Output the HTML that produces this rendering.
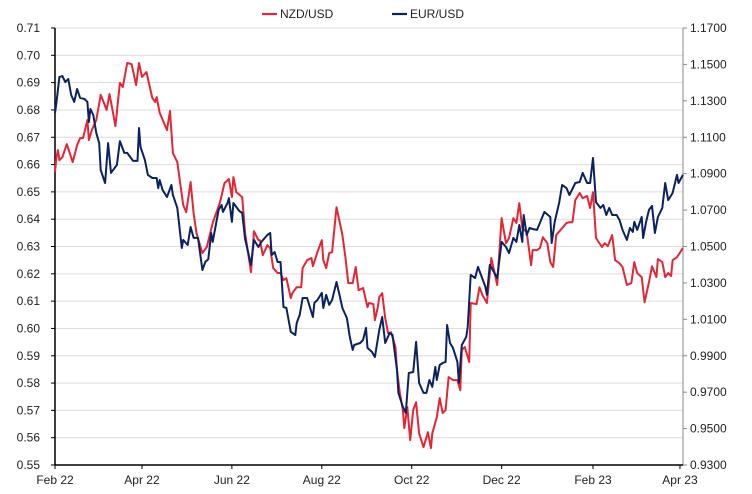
<!DOCTYPE html>
<html><head><meta charset="utf-8"><style>
body{margin:0;background:#fff}
svg text{font-family:"Liberation Sans",sans-serif;font-size:12px;fill:#222}
</style></head><body>
<svg id="chart" width="752" height="489" viewBox="0 0 752 489" xmlns="http://www.w3.org/2000/svg">
<g id="grid"></g>
<g id="axes"></g>
<g id="series"></g>
<g id="legend">
 <line x1="262" y1="14" x2="277" y2="14" stroke="#e32636" stroke-width="2.2"/>
 <text x="280" y="18">NZD/USD</text>
 <line x1="392" y1="14" x2="407" y2="14" stroke="#0b2260" stroke-width="2.2"/>
 <text x="410" y="18">EUR/USD</text>
</g>
</svg>
<script>
const leftTicks=["0.55","0.56","0.57","0.58","0.59","0.60","0.61","0.62","0.63","0.64","0.65","0.66","0.67","0.68","0.69","0.70","0.71"];
const rightTicks=["0.9300","0.9500","0.9700","0.9900","1.0100","1.0300","1.0500","1.0700","1.0900","1.1100","1.1300","1.1500","1.1700"];
const xLabels=["Feb 22","Apr 22","Jun 22","Aug 22","Oct 22","Dec 22","Feb 23","Apr 23"];
const xLabelDays=[0,59,120,181,242,303,365,424];
const nzdDays=[0,1,2,3,5,8,10,12,15,17,19,22,23,25,28,31,33,35,37,39,41,44,46,49,52,55,57,59,62,66,68,69,71,76,78,80,83,87,89,92,94,96,100,103,107,112,115,118,120,121,123,127,129,133,135,138,139,141,144,146,148,151,153,155,157,160,161,164,167,168,171,174,175,178,181,182,184,186,188,191,195,197,199,202,204,206,209,212,213,216,217,219,220,222,224,226,228,231,232,234,236,237,239,241,243,245,247,250,253,255,256,259,261,263,265,267,270,273,275,276,278,281,282,286,288,290,293,296,300,303,306,308,311,313,315,317,320,323,324,327,329,331,334,336,338,340,344,347,349,351,353,356,358,361,363,365,367,371,373,375,378,380,383,385,388,391,393,395,398,400,403,405,408,409,412,414,416,418,419,422,426];
const nzdVals=[0.6573,0.6627,0.6653,0.6616,0.6627,0.6675,0.6642,0.6609,0.6671,0.6697,0.6697,0.6763,0.6690,0.6726,0.6763,0.6855,0.6829,0.6800,0.6858,0.6800,0.6741,0.6899,0.6884,0.6972,0.6968,0.6891,0.6972,0.6921,0.6939,0.6844,0.6829,0.6847,0.6789,0.6726,0.6796,0.6642,0.6609,0.6452,0.6426,0.6536,0.6422,0.6349,0.6276,0.6298,0.6386,0.6463,0.6532,0.6547,0.6481,0.6554,0.6499,0.6481,0.6349,0.6206,0.6356,0.6323,0.6323,0.6268,0.6305,0.6294,0.6221,0.6203,0.6203,0.6177,0.6184,0.6111,0.6129,0.6151,0.6151,0.6221,0.6250,0.6258,0.6228,0.6279,0.6323,0.6250,0.6221,0.6276,0.6279,0.6444,0.6342,0.6261,0.6166,0.6166,0.6225,0.6140,0.6148,0.6078,0.6093,0.6089,0.6030,0.6078,0.6115,0.6129,0.6038,0.5983,0.5986,0.5931,0.5847,0.5763,0.5701,0.5635,0.5712,0.5591,0.5701,0.5730,0.5616,0.5565,0.5620,0.5562,0.5616,0.5675,0.5745,0.5690,0.5701,0.5822,0.5811,0.5811,0.5774,0.5921,0.5932,0.5877,0.6093,0.6089,0.6151,0.6122,0.6093,0.6258,0.6159,0.6404,0.6312,0.6331,0.6404,0.6386,0.6459,0.6367,0.6353,0.6232,0.6287,0.6287,0.6294,0.6334,0.6312,0.6243,0.6225,0.6342,0.6367,0.6386,0.6389,0.6389,0.6470,0.6496,0.6477,0.6485,0.6441,0.6499,0.6331,0.6298,0.6312,0.6301,0.6342,0.6250,0.6239,0.6225,0.6159,0.6166,0.6243,0.6203,0.6188,0.6096,0.6170,0.6228,0.6188,0.6254,0.6243,0.6188,0.6203,0.6192,0.6250,0.6261,0.6294];
const eurDays=[0,1,3,5,7,9,11,13,15,17,20,22,23,24,26,28,30,31,34,36,38,42,44,47,49,53,56,57,58,61,63,66,69,70,71,73,76,79,80,83,86,87,90,92,94,97,100,102,104,106,107,111,113,114,117,118,120,121,125,127,129,133,135,138,140,144,146,147,149,151,153,155,157,160,163,164,166,168,171,175,176,178,181,182,184,186,188,191,193,195,198,200,202,203,207,209,211,212,215,217,220,222,224,227,229,232,233,236,238,240,243,245,247,250,252,254,256,258,259,261,263,265,266,268,270,273,274,276,279,280,282,285,287,292,293,295,297,300,303,306,308,311,313,315,317,318,320,322,324,327,329,332,336,337,339,342,344,347,349,353,356,358,361,363,365,367,370,372,374,376,378,381,383,385,388,390,392,393,395,398,399,401,403,405,407,409,412,414,416,419,422,423,426];
const eurVals=[1.1233,1.1293,1.1431,1.1436,1.1403,1.1420,1.1332,1.1294,1.1365,1.1316,1.1310,1.1294,1.1184,1.1255,1.1222,1.1123,1.1068,1.0920,1.0848,1.1068,1.0904,1.0948,1.1079,1.1014,1.1014,1.0970,1.0970,1.1151,1.1047,1.0975,1.0893,1.0876,1.0876,1.0821,1.0865,1.0810,1.0772,1.0838,1.0783,1.0712,1.0492,1.0536,1.0508,1.0607,1.0547,1.0547,1.0371,1.0415,1.0431,1.0574,1.0525,1.0701,1.0728,1.0690,1.0739,1.0766,1.0635,1.0739,1.0695,1.0684,1.0541,1.0399,1.0536,1.0497,1.0525,1.0563,1.0574,1.0453,1.0470,1.0415,1.0415,1.0168,1.0162,1.0031,1.0014,1.0080,1.0124,1.0217,1.0217,1.0113,1.0190,1.0206,1.0245,1.0162,1.0234,1.0179,1.0206,1.0305,1.0234,1.0162,1.0107,1.0003,0.9932,0.9959,0.9970,0.9987,1.0053,0.9943,0.9921,0.9893,1.0042,1.0113,0.9970,1.0025,1.0014,0.9822,0.9696,0.9619,0.9586,0.9805,0.9811,0.9976,0.9751,0.9696,0.9696,0.9767,0.9729,0.9838,0.9767,0.9849,0.9860,0.9866,1.0069,0.9970,0.9943,0.9866,0.9751,0.9959,1.0003,1.0058,1.0344,1.0327,1.0388,1.0278,1.0234,1.0399,1.0371,1.0327,1.0525,1.0497,1.0464,1.0547,1.0525,1.0618,1.0525,1.0673,1.0563,1.0602,1.0596,1.0591,1.0629,1.0690,1.0662,1.0519,1.0635,1.0739,1.0838,1.0821,1.0783,1.0849,1.0854,1.0904,1.0849,1.0849,1.0986,1.0744,1.0712,1.0728,1.0673,1.0712,1.0673,1.0673,1.0646,1.0591,1.0536,1.0602,1.0580,1.0635,1.0591,1.0662,1.0547,1.0635,1.0701,1.0723,1.0574,1.0662,1.0712,1.0849,1.0755,1.0794,1.0893,1.0849,1.0893];

const NS="http://www.w3.org/2000/svg";
const L=55,R=683,T=28,B=465;
const xS=d=>L+d*1.474;
const yL=v=>B-(v-0.55)/(0.71-0.55)*(B-T);
const yR=v=>B-(v-0.93)/(1.17-0.93)*(B-T);
function mk(tag,attrs,parent){const e=document.createElementNS(NS,tag);for(const k in attrs)e.setAttribute(k,attrs[k]);parent.appendChild(e);return e;}
const grid=document.getElementById('grid'),axes=document.getElementById('axes'),series=document.getElementById('series');
leftTicks.forEach(t=>{
 const y=yL(parseFloat(t));
 const g=mk('line',{x1:L,x2:R,y1:y,y2:y,stroke:'#dcdcdc','stroke-width':1},grid);
 
 
 const tk=mk('line',{x1:L-4,x2:L,y1:y,y2:y,stroke:'#000'},axes);
 
 
 const tx=mk('text',{x:40,y:y+4,'text-anchor':'end'},axes);tx.textContent=t;
 
 
});
rightTicks.forEach(t=>{
 const y=yR(parseFloat(t));
 const tk=mk('line',{x1:R,x2:R+4,y1:y,y2:y,stroke:'#888'},axes);
 
 
 const tx=mk('text',{x:690,y:y+4},axes);tx.textContent=t;
 
 
});
xLabels.forEach((t,i)=>{
 const x=xS(xLabelDays[i]);
 const tk=mk('line',{x1:x,x2:x,y1:B,y2:B+4,stroke:'#000'},axes);
 
 
 const tx=mk('text',{x:x,y:484,'text-anchor':'middle','font-size':'11'},axes);tx.textContent=t;
 
 
});
const la=mk('line',{x1:L,x2:L,y1:T,y2:B,stroke:'#000','stroke-width':1.5},axes);


const ra=mk('line',{x1:R,x2:R,y1:T,y2:B,stroke:'#888','stroke-width':1},axes);


const ba=mk('line',{x1:L,x2:R,y1:B,y2:B,stroke:'#000','stroke-width':1.5},axes);


const nzd=mk('polyline',{points:nzdDays.map((d,i)=>xS(d).toFixed(1)+','+yL(nzdVals[i]).toFixed(1)).join(' '),fill:'none',stroke:'#e32636','stroke-width':2,'stroke-linejoin':'round'},series);


const eur=mk('polyline',{points:eurDays.map((d,i)=>xS(d).toFixed(1)+','+yR(eurVals[i]).toFixed(1)).join(' '),fill:'none',stroke:'#0b2260','stroke-width':2,'stroke-linejoin':'round'},series);


</script>
</body></html>
